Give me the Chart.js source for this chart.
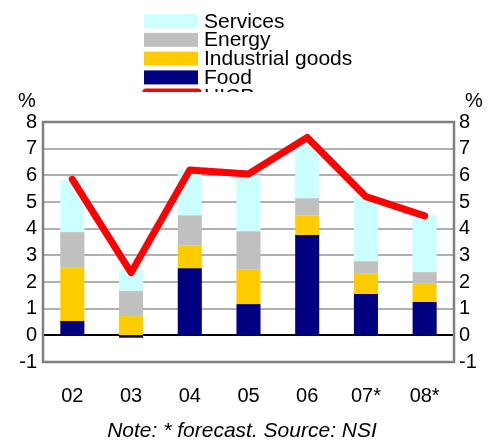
<!DOCTYPE html>
<html>
<head>
<meta charset="utf-8">
<script src="https://cdn.jsdelivr.net/npm/chart.js@4/dist/chart.umd.min.js"></script>
<style>
  html, body { margin: 0; padding: 0; background: #fff; }
  #wrap { width: 487px; height: 442px; position: relative; }
</style>
</head>
<body>
<div id="wrap"><canvas id="cpi"></canvas></div>
<script>
const years = ["02", "03", "04", "05", "06", "07*", "08*"];
const food = [0.54, -0.09, 2.52, 1.17, 3.76, 1.55, 1.25];
const industrialGoods = [1.99, 0.72, 0.84, 1.29, 0.74, 0.76, 0.68];
const energy = [1.34, 0.94, 1.14, 1.44, 0.64, 0.47, 0.44];
const services = [1.95, 0.79, 1.69, 2.1, 2.27, 2.4, 2.13];
const hicp = [5.85, 2.35, 6.2, 6.05, 7.42, 5.2, 4.48];
const yTicks = [-1, 0, 1, 2, 3, 4, 5, 6, 7, 8];

const FONT = "Arial, 'Liberation Sans', sans-serif";

// % signs, grid and zero line go under the bars
const underlay = {
  id: "underlay",
  beforeDatasetsDraw(chart) {
    const { ctx, chartArea: a } = chart;
    const y = chart.scales.y;
    ctx.save();
    ctx.fillStyle = "#000";
    ctx.font = "20px " + FONT;
    ctx.textAlign = "center";
    ctx.textBaseline = "middle";
    ctx.fillText("%", 27, 101);
    ctx.fillText("%", 474, 101);
    yTicks.forEach(v => {
      const py = Math.round(y.getPixelForValue(v));
      ctx.strokeStyle = v === 0 ? "#000" : "#b0b0b0";
      ctx.lineWidth = 2;
      ctx.beginPath();
      ctx.moveTo(a.left, py);
      ctx.lineTo(a.right, py);
      ctx.stroke();
    });
    ctx.restore();
  },
  afterDatasetsDraw(chart) {
    const { ctx, chartArea: a } = chart;
    ctx.save();
    ctx.strokeStyle = "#808080";
    ctx.lineWidth = 2.5;
    ctx.strokeRect(a.left, a.top, a.right - a.left, a.bottom - a.top);
    ctx.restore();
  }
};

// legend (last entry cut off at y = 92) and footnote
const overlay = {
  id: "overlay",
  afterDraw(chart) {
    const { ctx } = chart;
    ctx.save();
    ctx.font = "21px " + FONT;
    ctx.textAlign = "left";
    ctx.textBaseline = "alphabetic";
    [3, 2, 1, 0].forEach((i, k) => {
      const ds = chart.data.datasets[i];
      const ly = 14 + k * 18.8;
      ctx.fillStyle = ds.backgroundColor;
      ctx.fillRect(144, ly, 54, 14);
      ctx.fillStyle = "#000";
      ctx.fillText(ds.label, 204, ly + 13.5);
    });
    const line = chart.data.datasets[4];
    ctx.strokeStyle = line.borderColor;
    ctx.lineWidth = 7;
    ctx.lineCap = "round";
    ctx.beginPath();
    ctx.moveTo(146, 92);
    ctx.lineTo(198, 92);
    ctx.stroke();
    ctx.fillStyle = "#000";
    ctx.fillText(line.label, 204, 89 + 13.5);
    ctx.fillStyle = "#fff";
    ctx.fillRect(130, 92, 150, 20);

    ctx.fillStyle = "#000";
    ctx.font = "italic 21px " + FONT;
    ctx.textAlign = "center";
    ctx.textBaseline = "middle";
    ctx.fillText("Note: * forecast. Source: NSI", 242, 431);
    ctx.restore();
  }
};

const tickFont = { family: FONT, size: 20 };

new Chart(document.getElementById("cpi"), {
  data: {
    labels: years,
    datasets: [
      { type: "bar", label: "Food", data: food, backgroundColor: "#000080", order: 1 },
      { type: "bar", label: "Industrial goods", data: industrialGoods, backgroundColor: "#ffcc00", order: 1 },
      { type: "bar", label: "Energy", data: energy, backgroundColor: "#c0c0c0", order: 1 },
      { type: "bar", label: "Services", data: services, backgroundColor: "#ccffff", order: 1 },
      {
        type: "line", label: "HICP", data: hicp, stack: "hicp", order: 0,
        borderColor: "#ff0000", borderWidth: 7, pointRadius: 0, tension: 0,
        borderCapStyle: "round", borderJoinStyle: "round", fill: false
      }
    ]
  },
  options: {
    responsive: true,
    maintainAspectRatio: false,
    animation: false,
    events: [],
    layout: { padding: { top: 122, left: 0, right: 0, bottom: 0 } },
    datasets: { bar: { barPercentage: 0.41, categoryPercentage: 1 } },
    plugins: { legend: { display: false }, tooltip: { enabled: false } },
    scales: {
      x: {
        stacked: true,
        grid: { display: false, drawTicks: false },
        border: { display: false },
        ticks: { color: "#000", font: tickFont, padding: 22, autoSkip: false, maxRotation: 0 },
        afterFit(s) { s.height = 80; }
      },
      y: {
        stacked: true,
        position: "left",
        min: -1, max: 8,
        afterBuildTicks(s) { s.ticks = yTicks.map(v => ({ value: v })); },
        grid: { display: false, drawTicks: false },
        border: { display: false },
        ticks: { color: "#000", font: tickFont, padding: 6, autoSkip: false },
        afterFit(s) { s.width = 43; }
      },
      y2: {
        position: "right",
        min: -1, max: 8,
        afterBuildTicks(s) { s.ticks = yTicks.map(v => ({ value: v })); },
        grid: { display: false, drawTicks: false },
        border: { display: false },
        ticks: { color: "#000", font: tickFont, padding: 5, autoSkip: false },
        afterFit(s) { s.width = 33; }
      }
    }
  },
  plugins: [underlay, overlay]
});
</script>
</body>
</html>
